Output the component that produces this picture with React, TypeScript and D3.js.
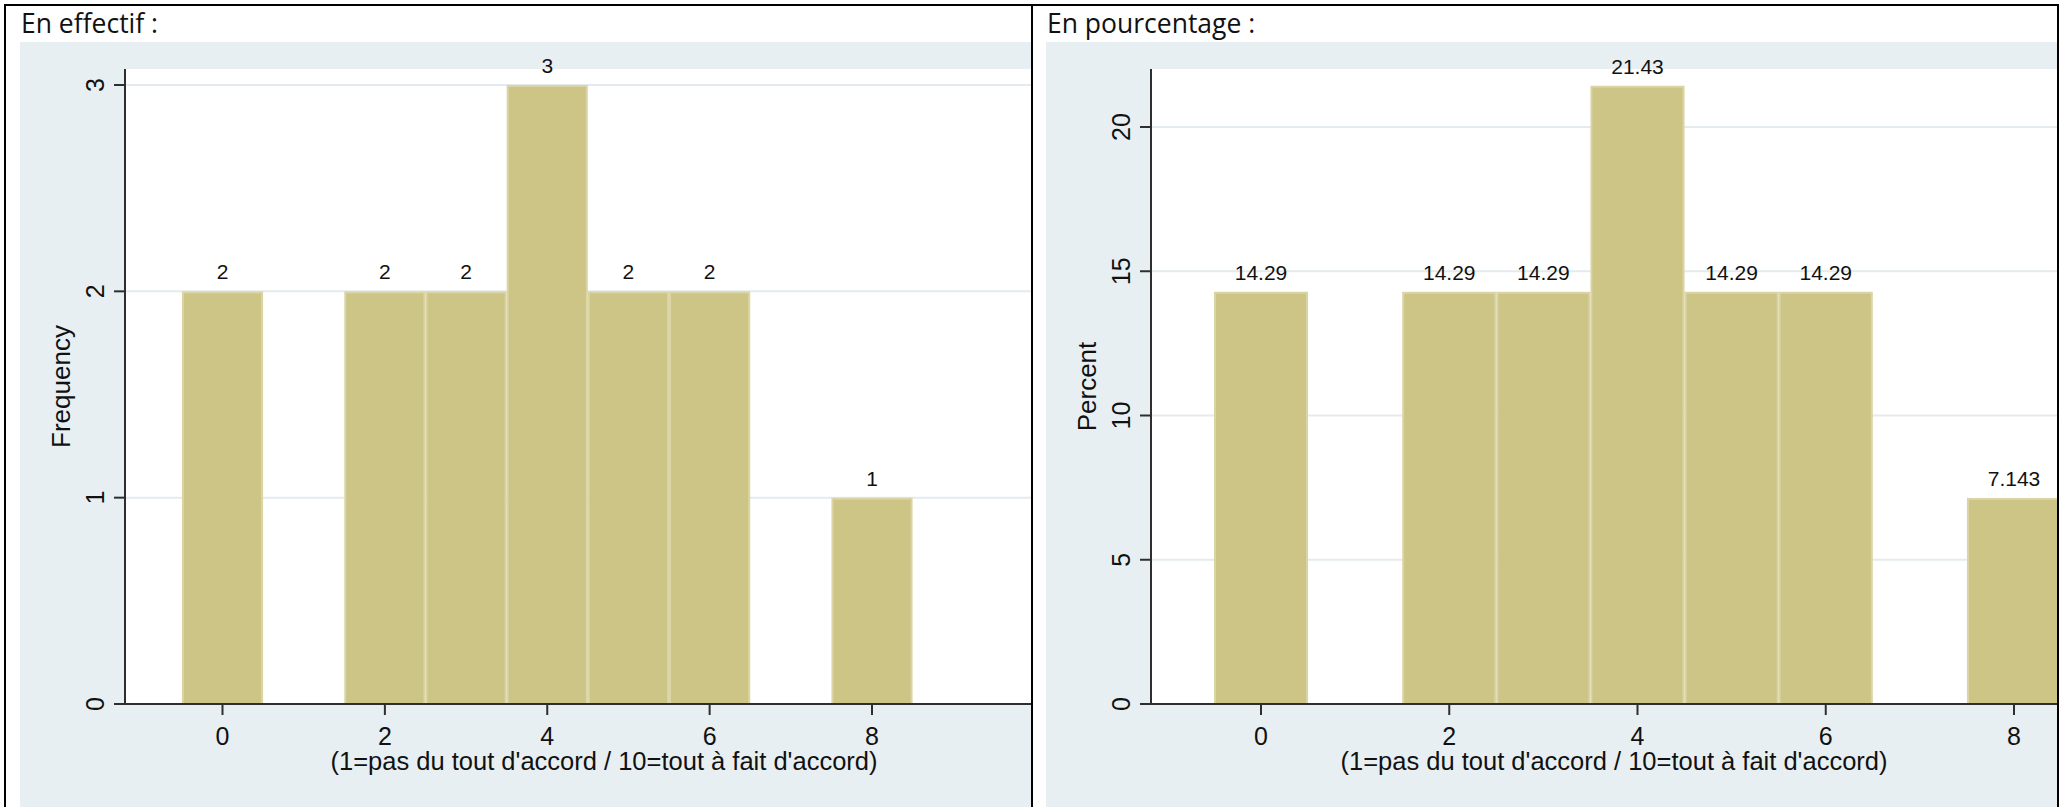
import React from "react";
import * as d3 from "d3";

// ---- data ----
const categories = [0, 2, 3, 4, 5, 6, 8];
const frequency = [2, 2, 2, 3, 2, 2, 1];
const percent = [14.29, 14.29, 14.29, 21.43, 14.29, 14.29, 7.143];
const freqTicks = [0, 1, 2, 3];
const pctTicks = [0, 5, 10, 15, 20];
const xTicks = [0, 2, 4, 6, 8];
const xAxisTitle = "(1=pas du tout d'accord / 10=tout à fait d'accord)";
const panelTitles = ["En effectif :", "En pourcentage :"];
const yAxisTitles = ["Frequency", "Percent"];

const W = 2065;
const H = 807;
const BG = "#e8eff2";
const BAR = "#ccc586";
const BAR_EDGE = "#dbd5a6";
const GRID = "#e3ebee";
const AXIS = "#2e2e2e";
const AXIS_FONT = "'Liberation Sans', Arial, sans-serif";
const TITLE_FONT = "'Open Sans', 'Noto Sans', sans-serif";

type PanelProps = {
  id: string;
  left: number;
  right: number;
  bgLeft: number;
  plotLeft: number;
  plotTop: number;
  plotBottom: number;
  xScale: d3.ScaleLinear<number, number>;
  yScale: d3.ScaleLinear<number, number>;
  values: number[];
  yTicks: number[];
  title: string;
  yTitle: string;
  xTitleX: number;
};

const fmt = d3.format(".4~g");

function Panel(p: PanelProps) {
  const plotRight = p.right - 1;
  return (
    <g>
      <rect x={p.left} y={5} width={p.right - p.left} height={H + 20} fill="#ffffff" />
      <rect x={p.bgLeft} y={42} width={p.right - p.bgLeft} height={H} fill={BG} />
      <rect
        x={p.plotLeft}
        y={p.plotTop}
        width={plotRight - p.plotLeft}
        height={p.plotBottom - p.plotTop}
        fill="#ffffff"
      />
      <defs>
        <clipPath id={`clip-${p.id}`}>
          <rect
            x={p.plotLeft}
            y={p.plotTop - 40}
            width={plotRight - p.plotLeft}
            height={p.plotBottom - p.plotTop + 40}
          />
        </clipPath>
      </defs>
      {p.yTicks
        .filter((t) => t !== 0)
        .map((t) => (
          <line
            key={`g${t}`}
            x1={p.plotLeft}
            x2={plotRight}
            y1={p.yScale(t)}
            y2={p.yScale(t)}
            stroke={GRID}
            strokeWidth={2}
          />
        ))}
      <g clipPath={`url(#clip-${p.id})`}>
        {categories.map((c, i) => {
          const x0 = p.xScale(c - 0.5);
          const x1 = p.xScale(c + 0.5);
          const y = p.yScale(p.values[i]);
          return (
            <g key={`b${c}`}>
              <rect
                x={x0 + 1}
                y={y + 1}
                width={x1 - x0 - 2}
                height={p.yScale(0) - y - 1}
                fill={BAR}
                stroke={BAR_EDGE}
                strokeWidth={2}
              />
              <text
                x={p.xScale(c)}
                y={y - 12}
                textAnchor="middle"
                fontFamily={AXIS_FONT}
                fontSize={21}
                fill="#111"
              >
                {fmt(p.values[i])}
              </text>
            </g>
          );
        })}
      </g>
      <line x1={p.plotLeft} x2={p.plotLeft} y1={p.plotTop} y2={p.plotBottom} stroke={AXIS} strokeWidth={2} />
      {p.yTicks.map((t) => (
        <g key={`yt${t}`}>
          <line
            x1={p.plotLeft - 11}
            x2={p.plotLeft}
            y1={p.yScale(t)}
            y2={p.yScale(t)}
            stroke={AXIS}
            strokeWidth={2}
          />
          <text
            transform={`translate(${p.plotLeft - 21},${p.yScale(t)}) rotate(-90)`}
            textAnchor="middle"
            fontFamily={AXIS_FONT}
            fontSize={25}
            fill="#111"
          >
            {t}
          </text>
        </g>
      ))}
      <text
        transform={`translate(${p.plotLeft - 55},${(p.plotTop + p.plotBottom) / 2}) rotate(-90)`}
        textAnchor="middle"
        fontFamily={AXIS_FONT}
        fontSize={26}
        fill="#111"
      >
        {p.yTitle}
      </text>
      <line x1={p.plotLeft - 11} x2={plotRight} y1={p.plotBottom} y2={p.plotBottom} stroke={AXIS} strokeWidth={2} />
      {xTicks.map((t) => (
        <g key={`xt${t}`}>
          <line
            x1={p.xScale(t)}
            x2={p.xScale(t)}
            y1={p.plotBottom}
            y2={p.plotBottom + 11}
            stroke={AXIS}
            strokeWidth={2}
          />
          <text
            x={p.xScale(t)}
            y={745}
            textAnchor="middle"
            fontFamily={AXIS_FONT}
            fontSize={25}
            fill="#111"
          >
            {t}
          </text>
        </g>
      ))}
      <text
        x={p.xTitleX}
        y={770}
        textAnchor="middle"
        fontFamily={AXIS_FONT}
        fontSize={25.5}
        fill="#111"
      >
        {xAxisTitle}
      </text>
      <text x={p.bgLeft + 1} y={33} fontFamily={TITLE_FONT} fontSize={26.5} fill="#111">
        {p.title}
      </text>
      <rect
        x={p.left}
        y={5}
        width={p.right - p.left}
        height={H + 20}
        fill="none"
        stroke="#000"
        strokeWidth={2}
      />
    </g>
  );
}

export default function App() {
  const xLeft = d3.scaleLinear().domain([0, 8]).range([222.5, 872]);
  const yLeft = d3.scaleLinear().domain([0, 3]).range([704, 85]);
  const xRight = d3.scaleLinear().domain([0, 8]).range([1261, 2014]);
  const yRight = d3.scaleLinear().domain([0, 20]).range([704, 127]);

  return (
    <svg
      width={W}
      height={H}
      viewBox={`0 0 ${W} ${H}`}
      style={{ position: "absolute", left: 0, top: 0, display: "block", background: "#fff" }}
    >
      <Panel
        id="l"
        left={5}
        right={1032}
        bgLeft={20}
        plotLeft={125}
        plotTop={69}
        plotBottom={704}
        xScale={xLeft}
        yScale={yLeft}
        values={frequency}
        yTicks={freqTicks}
        title={panelTitles[0]}
        yTitle={yAxisTitles[0]}
        xTitleX={604}
      />
      <Panel
        id="r"
        left={1032}
        right={2058}
        bgLeft={1046}
        plotLeft={1151}
        plotTop={69}
        plotBottom={704}
        xScale={xRight}
        yScale={yRight}
        values={percent}
        yTicks={pctTicks}
        title={panelTitles[1]}
        yTitle={yAxisTitles[1]}
        xTitleX={1614}
      />
    </svg>
  );
}
